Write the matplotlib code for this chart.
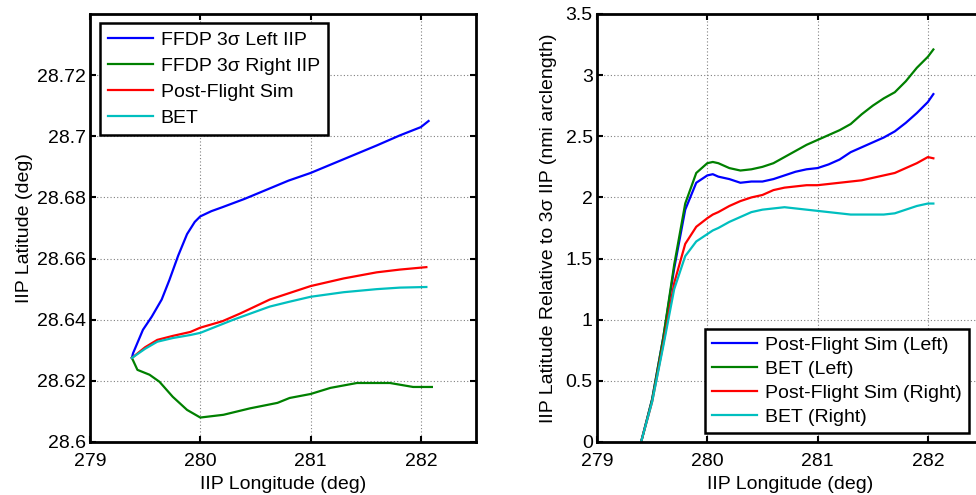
import matplotlib
matplotlib.use("Agg")
import matplotlib.pyplot as plt

plt.rcParams['font.family'] = ['Liberation Sans', 'DejaVu Sans']

# ---- Left panel data (IIP lon / lat) ----
left_lon_blue = [279.38, 279.39, 279.48, 279.56, 279.65, 279.72, 279.80, 279.88, 279.95, 280.0, 280.1, 280.2,
                 280.4, 280.6, 280.8, 281.0, 281.2, 281.4, 281.6, 281.81, 282.0, 282.07]
left_lat_blue = [28.6275, 28.629, 28.6367, 28.641, 28.6466, 28.653, 28.661, 28.668, 28.672, 28.6738, 28.6755, 28.6768,
                 28.6795, 28.6825, 28.6855, 28.688, 28.691, 28.694, 28.697, 28.7003, 28.703, 28.705]

left_lon_green = [279.38, 279.43, 279.54, 279.63, 279.75, 279.88, 280.0, 280.21, 280.45, 280.7, 280.81,
                  281.0, 281.18, 281.42, 281.72, 281.93, 282.1]
left_lat_green = [28.6275, 28.6236, 28.622, 28.6197, 28.6148, 28.6105, 28.608, 28.6089, 28.611, 28.6128, 28.6144,
                  28.6157, 28.6177, 28.6193, 28.6193, 28.618, 28.618]

left_lon_red = [279.38, 279.5, 279.61, 279.75, 279.91, 280.0, 280.2, 280.36, 280.63, 281.0, 281.3, 281.6, 281.81, 282.05]
left_lat_red = [28.6275, 28.631, 28.6334, 28.6347, 28.636, 28.6374, 28.6395, 28.642, 28.6466, 28.651, 28.6535,
                28.6555, 28.6564, 28.6572]

left_lon_cyan = [279.38, 279.5, 279.61, 279.75, 279.91, 280.0, 280.3, 280.63, 280.81, 281.0, 281.3, 281.6, 281.81, 282.05]
left_lat_cyan = [28.6275, 28.6305, 28.6328, 28.634, 28.635, 28.6357, 28.640, 28.6443, 28.6459, 28.6475, 28.649,
                 28.650, 28.6505, 28.6507]

left_labels = ['FFDP 3\u03c3 Left IIP', 'FFDP 3\u03c3 Right IIP', 'Post-Flight Sim', 'BET']

# ---- Right panel data (relative distance) ----
right_lon = [279.4, 279.5, 279.6, 279.7, 279.8, 279.9, 280.0, 280.05, 280.1, 280.2, 280.3, 280.4, 280.5, 280.6,
             280.7, 280.8, 280.9, 281.0, 281.1, 281.2, 281.3, 281.4, 281.5, 281.6, 281.7, 281.8, 281.9, 282.0, 282.05]
right_sim_left = [0, 0.35, 0.85, 1.42, 1.9, 2.12, 2.18, 2.19, 2.17, 2.15, 2.12, 2.13, 2.13, 2.15, 2.18, 2.21, 2.23,
                  2.24, 2.27, 2.31, 2.37, 2.41, 2.45, 2.49, 2.54, 2.61, 2.69, 2.78, 2.845]
right_bet_left = [0, 0.35, 0.85, 1.45, 1.95, 2.2, 2.28, 2.29, 2.28, 2.24, 2.22, 2.23, 2.25, 2.28, 2.33, 2.38, 2.43,
                  2.47, 2.51, 2.55, 2.6, 2.68, 2.75, 2.81, 2.86, 2.95, 3.06, 3.15, 3.21]
right_sim_right = [0, 0.33, 0.8, 1.3, 1.62, 1.76, 1.83, 1.86, 1.88, 1.93, 1.97, 2.0, 2.02, 2.06, 2.08, 2.09, 2.1,
                   2.1, 2.11, 2.12, 2.13, 2.14, 2.16, 2.18, 2.2, 2.24, 2.28, 2.33, 2.32]
right_bet_right = [0, 0.33, 0.78, 1.25, 1.52, 1.64, 1.7, 1.73, 1.75, 1.8, 1.84, 1.88, 1.9, 1.91, 1.92, 1.91, 1.9,
                   1.89, 1.88, 1.87, 1.86, 1.86, 1.86, 1.86, 1.87, 1.9, 1.93, 1.95, 1.95]
right_labels = ['Post-Flight Sim (Left)', 'BET (Left)', 'Post-Flight Sim (Right)', 'BET (Right)']

xticks = [279, 280, 281, 282]
left_yticks = [28.6, 28.62, 28.64, 28.66, 28.68, 28.7, 28.72]
left_yticklabels = ['28.6', '28.62', '28.64', '28.66', '28.68', '28.7', '28.72']
right_yticks = [0, 0.5, 1, 1.5, 2, 2.5, 3, 3.5]
right_yticklabels = ['0', '0.5', '1', '1.5', '2', '2.5', '3', '3.5']

colors = ['#0000ff', '#008000', '#ff0000', '#00bfbf']
FS = 14

fig = plt.figure(figsize=(9.76, 4.95), dpi=100)
W, H = 976, 495
ax1 = fig.add_axes([90 / W, (H - 442) / H, 386 / W, 428 / H])
ax2 = fig.add_axes([597 / W, (H - 442) / H, 386 / W, 428 / H])


def style(ax):
    ax.set_xlim(279, 282.5)
    ax.set_xticks(xticks)
    ax.set_xticklabels([str(t) for t in xticks])
    ax.grid(True, linestyle=(0, (1, 2)), color='#808080', linewidth=0.8)
    for s in ax.spines.values():
        s.set_linewidth(2.0)
        s.set_color('black')
    ax.tick_params(direction='in', length=4, width=1.5, top=True, right=True,
                   labelsize=FS, colors='black')
    ax.tick_params(axis='x', pad=8)
    ax.tick_params(axis='y', pad=3)


ax1.plot(left_lon_blue, left_lat_blue, color=colors[0], lw=1.6, label=left_labels[0])
ax1.plot(left_lon_green, left_lat_green, color=colors[1], lw=1.6, label=left_labels[1])
ax1.plot(left_lon_red, left_lat_red, color=colors[2], lw=1.6, label=left_labels[2])
ax1.plot(left_lon_cyan, left_lat_cyan, color=colors[3], lw=1.6, label=left_labels[3])
style(ax1)
ax1.set_ylim(28.6, 28.74)
ax1.set_yticks(left_yticks)
ax1.set_yticklabels(left_yticklabels)
ax1.set_xlabel('IIP Longitude (deg)', fontsize=FS, labelpad=4)
ax1.set_ylabel('IIP Latitude (deg)', fontsize=FS, labelpad=3)
leg1 = ax1.legend(loc='upper left', bbox_to_anchor=(0.026, 0.979), borderaxespad=0,
                  fontsize=FS, fancybox=False, framealpha=1, edgecolor='black',
                  handlelength=2.3, labelspacing=0.44, handletextpad=0.4, borderpad=0.42)
leg1.get_frame().set_linewidth(1.8)

ax2.plot(right_lon, right_sim_left, color=colors[0], lw=1.6, label=right_labels[0])
ax2.plot(right_lon, right_bet_left, color=colors[1], lw=1.6, label=right_labels[1])
ax2.plot(right_lon, right_sim_right, color=colors[2], lw=1.6, label=right_labels[2])
ax2.plot(right_lon, right_bet_right, color=colors[3], lw=1.6, label=right_labels[3])
style(ax2)
ax2.set_ylim(0, 3.5)
ax2.set_yticks(right_yticks)
ax2.set_yticklabels(right_yticklabels)
ax2.set_xlabel('IIP Longitude (deg)', fontsize=FS, labelpad=4)
ax2.set_ylabel('IIP Latitude Relative to 3\u03c3 IIP (nmi arclength)', fontsize=FS, labelpad=6)
leg2 = ax2.legend(loc='lower left', bbox_to_anchor=(0.28, 0.021), borderaxespad=0,
                  fontsize=FS, fancybox=False, framealpha=1, edgecolor='black',
                  handlelength=2.3, labelspacing=0.33, handletextpad=0.4, borderpad=0.38)
leg2.get_frame().set_linewidth(1.8)

fig.savefig('out.png', dpi=100)
